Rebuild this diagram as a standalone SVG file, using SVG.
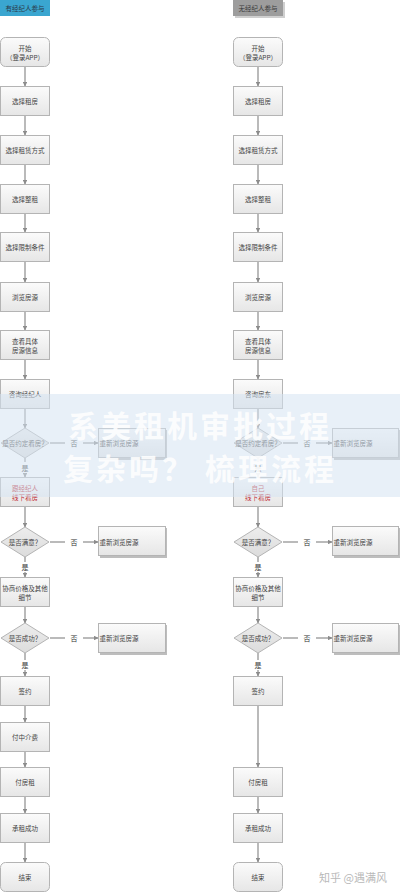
<svg xmlns="http://www.w3.org/2000/svg" width="400" height="892" viewBox="0 0 400 892">
<style>
text{font-family:"Noto Sans CJK SC","Noto Sans",sans-serif;font-size:6.5px;fill:#444;text-anchor:middle;dominant-baseline:central}
.box{fill:url(#g);stroke:#b4b4b4;stroke-width:1}
.dia{fill:url(#gd);stroke:#b4b4b4;stroke-width:1}
.red{fill:#c0282e}
.ln{stroke:#8c8c8c;stroke-width:1.2;fill:none}
.arr{stroke:#8c8c8c;stroke-width:1.2;fill:none;marker-end:url(#ah)}
.lab{font-size:7px;fill:#333}
.sh{fill:#bdbdbd}
</style>
<defs>
<linearGradient id="g" x1="0" y1="0" x2="0" y2="1"><stop offset="0" stop-color="#fbfbfb"/><stop offset="1" stop-color="#e6e6e6"/></linearGradient>
<linearGradient id="gd" x1="0" y1="0" x2="0" y2="1"><stop offset="0" stop-color="#ededed"/><stop offset="1" stop-color="#dcdcdc"/></linearGradient>
<marker id="ah" viewBox="0 0 10 10" refX="9" refY="5" markerWidth="4" markerHeight="4" orient="auto"><path d="M0,0 L10,5 L0,10 z" fill="#8c8c8c"/></marker>
</defs>
<rect width="400" height="892" fill="#ffffff"/>
<g id="connectors">
<line class="arr" x1="25" y1="67" x2="25" y2="86"/>
<line class="arr" x1="25" y1="116" x2="25" y2="135"/>
<line class="arr" x1="25" y1="165" x2="25" y2="184"/>
<line class="arr" x1="25" y1="214" x2="25" y2="232"/>
<line class="arr" x1="25" y1="262" x2="25" y2="282"/>
<line class="arr" x1="25" y1="312" x2="25" y2="330"/>
<line class="arr" x1="25" y1="360" x2="25" y2="379"/>
<line class="arr" x1="25" y1="409" x2="25" y2="428"/>
<line class="ln" x1="50" y1="443" x2="65" y2="443"/>
<line class="arr" x1="83" y1="443" x2="98" y2="443"/>
<line class="ln" x1="25" y1="458" x2="25" y2="462"/>
<line class="arr" x1="25" y1="473" x2="25" y2="477"/>
<line class="arr" x1="25" y1="507" x2="25" y2="527"/>
<line class="ln" x1="50" y1="542" x2="65" y2="542"/>
<line class="arr" x1="83" y1="542" x2="98" y2="542"/>
<line class="ln" x1="25" y1="557" x2="25" y2="562"/>
<line class="arr" x1="25" y1="572" x2="25" y2="577"/>
<line class="arr" x1="25" y1="607" x2="25" y2="623"/>
<line class="ln" x1="50" y1="638" x2="65" y2="638"/>
<line class="arr" x1="83" y1="638" x2="98" y2="638"/>
<line class="ln" x1="25" y1="653" x2="25" y2="660"/>
<line class="arr" x1="25" y1="670" x2="25" y2="676"/>
<line class="arr" x1="25" y1="706" x2="25" y2="722"/>
<line class="arr" x1="25" y1="752" x2="25" y2="767"/>
<line class="arr" x1="25" y1="797" x2="25" y2="813"/>
<line class="arr" x1="25" y1="843" x2="25" y2="862"/>
<line class="arr" x1="258" y1="67" x2="258" y2="86"/>
<line class="arr" x1="258" y1="116" x2="258" y2="135"/>
<line class="arr" x1="258" y1="165" x2="258" y2="184"/>
<line class="arr" x1="258" y1="214" x2="258" y2="232"/>
<line class="arr" x1="258" y1="262" x2="258" y2="282"/>
<line class="arr" x1="258" y1="312" x2="258" y2="330"/>
<line class="arr" x1="258" y1="360" x2="258" y2="379"/>
<line class="arr" x1="258" y1="409" x2="258" y2="428"/>
<line class="ln" x1="283" y1="443" x2="298" y2="443"/>
<line class="arr" x1="316" y1="443" x2="332" y2="443"/>
<line class="ln" x1="258" y1="458" x2="258" y2="462"/>
<line class="arr" x1="258" y1="473" x2="258" y2="477"/>
<line class="arr" x1="258" y1="507" x2="258" y2="527"/>
<line class="ln" x1="283" y1="542" x2="298" y2="542"/>
<line class="arr" x1="316" y1="542" x2="332" y2="542"/>
<line class="ln" x1="258" y1="557" x2="258" y2="562"/>
<line class="arr" x1="258" y1="572" x2="258" y2="577"/>
<line class="arr" x1="258" y1="607" x2="258" y2="623"/>
<line class="ln" x1="283" y1="638" x2="298" y2="638"/>
<line class="arr" x1="316" y1="638" x2="332" y2="638"/>
<line class="ln" x1="258" y1="653" x2="258" y2="660"/>
<line class="arr" x1="258" y1="670" x2="258" y2="676"/>
<line class="arr" x1="258" y1="706" x2="258" y2="767"/>
<line class="arr" x1="258" y1="797" x2="258" y2="813"/>
<line class="arr" x1="258" y1="843" x2="258" y2="862"/>
</g>
<g id="labels">
<text class="lab" x="74" y="443">否</text>
<text class="lab" x="25" y="467.5">是</text>
<text class="lab" x="74" y="542">否</text>
<text class="lab" x="25" y="567">是</text>
<text class="lab" x="74" y="638">否</text>
<text class="lab" x="25" y="665">是</text>
<text class="lab" x="307" y="443">否</text>
<text class="lab" x="258" y="467.5">是</text>
<text class="lab" x="307" y="542">否</text>
<text class="lab" x="258" y="567">是</text>
<text class="lab" x="307" y="638">否</text>
<text class="lab" x="258" y="665">是</text>
</g>
<g id="hdr-left"><rect x="0" y="0" width="50" height="16" fill="#3aa6d0"/><text x="25" y="8" fill="#2a3a4a" style="fill:#2a3a4a">有经纪人参与</text></g>
<g id="hdr-right"><rect x="235" y="2" width="50" height="16" fill="#cfcfcf"/><rect x="233" y="0" width="50" height="16" fill="#9d9d9d"/><text x="258" y="8" style="fill:#3a3a3a">无经纪人参与</text></g>
<g id="l-start"><rect class="box" x="0.5" y="37.5" width="49" height="29" rx="5"/><text x="25" y="47.5">开始</text><text x="25" y="57">（登录APP）</text></g>
<g id="l-n1"><rect class="box" x="0.5" y="86.5" width="49" height="29"/><text x="25" y="101">选择租房</text></g>
<g id="l-n2"><rect class="box" x="0.5" y="135.5" width="49" height="29"/><text x="25" y="150">选择租赁方式</text></g>
<g id="l-n3"><rect class="box" x="0.5" y="184.5" width="49" height="29"/><text x="25" y="199">选择整租</text></g>
<g id="l-n4"><rect class="box" x="0.5" y="232.5" width="49" height="29"/><text x="25" y="247">选择限制条件</text></g>
<g id="l-n5"><rect class="box" x="0.5" y="282.5" width="49" height="29"/><text x="25" y="297">浏览房源</text></g>
<g id="l-n6"><rect class="box" x="0.5" y="330.5" width="49" height="29"/><text x="25" y="341">查看具体</text><text x="25" y="350">房源信息</text></g>
<g id="l-n7"><rect class="box" x="0.5" y="379.5" width="49" height="29"/><text x="25" y="394">咨询经纪人</text></g>
<g id="l-d1"><polygon class="dia" points="1,443 25,428 49,443 25,458"/><text x="25" y="443">是否约定看房？</text></g>
<g id="l-r1"><rect class="sh" x="100" y="430" width="67" height="30"/><rect class="box" x="98.5" y="428.5" width="67" height="29"/><text x="99.5" y="443" style="text-anchor:start">重新浏览房源</text></g>
<g id="l-n8"><rect class="box" x="0.5" y="477.5" width="49" height="29"/><text class="red" x="25" y="487.5">跟经纪人</text><text class="red" x="25" y="496.5">线下看房</text></g>
<g id="l-d2"><polygon class="dia" points="1,542 25,527 49,542 25,557"/><text x="25" y="542">是否满意？</text></g>
<g id="l-r2"><rect class="sh" x="100" y="528" width="67" height="30"/><rect class="box" x="98.5" y="526.5" width="67" height="29"/><text x="99.5" y="542" style="text-anchor:start">重新浏览房源</text></g>
<g id="l-n9"><rect class="box" x="0.5" y="577.5" width="49" height="29"/><text x="25" y="587.5">协商价格及其他</text><text x="25" y="596.5">细节</text></g>
<g id="l-d3"><polygon class="dia" points="1,638 25,623 49,638 25,653"/><text x="25" y="638">是否成功？</text></g>
<g id="l-r3"><rect class="sh" x="100" y="625" width="67" height="30"/><rect class="box" x="98.5" y="623.5" width="67" height="29"/><text x="99.5" y="638" style="text-anchor:start">重新浏览房源</text></g>
<g id="l-n10"><rect class="box" x="0.5" y="676.5" width="49" height="29"/><text x="25" y="691">签约</text></g>
<g id="l-n11"><rect class="box" x="0.5" y="722.5" width="49" height="29"/><text x="25" y="737">付中介费</text></g>
<g id="l-n12"><rect class="box" x="0.5" y="767.5" width="49" height="29"/><text x="25" y="782">付房租</text></g>
<g id="l-n13"><rect class="box" x="0.5" y="813.5" width="49" height="29"/><text x="25" y="828">承租成功</text></g>
<g id="l-end"><rect class="box" x="0.5" y="862.5" width="49" height="29" rx="5"/><text x="25" y="877">结束</text></g>
<g id="r-start"><rect class="box" x="233.5" y="37.5" width="49" height="29" rx="5"/><text x="258" y="47.5">开始</text><text x="258" y="57">（登录APP）</text></g>
<g id="r-n1"><rect class="box" x="233.5" y="86.5" width="49" height="29"/><text x="258" y="101">选择租房</text></g>
<g id="r-n2"><rect class="box" x="233.5" y="135.5" width="49" height="29"/><text x="258" y="150">选择租赁方式</text></g>
<g id="r-n3"><rect class="box" x="233.5" y="184.5" width="49" height="29"/><text x="258" y="199">选择整租</text></g>
<g id="r-n4"><rect class="box" x="233.5" y="232.5" width="49" height="29"/><text x="258" y="247">选择限制条件</text></g>
<g id="r-n5"><rect class="box" x="233.5" y="282.5" width="49" height="29"/><text x="258" y="297">浏览房源</text></g>
<g id="r-n6"><rect class="box" x="233.5" y="330.5" width="49" height="29"/><text x="258" y="341">查看具体</text><text x="258" y="350">房源信息</text></g>
<g id="r-n7"><rect class="box" x="233.5" y="379.5" width="49" height="29"/><text x="258" y="394">咨询房东</text></g>
<g id="r-d1"><polygon class="dia" points="234,443 258,428 282,443 258,458"/><text x="258" y="443">是否约定看房？</text></g>
<g id="r-r1"><rect class="sh" x="334" y="430" width="66" height="30"/><rect class="box" x="332.5" y="428.5" width="66" height="29"/><text x="333.5" y="443" style="text-anchor:start">重新浏览房源</text></g>
<g id="r-n8"><rect class="box" x="233.5" y="477.5" width="49" height="29"/><text class="red" x="258" y="487.5">自己</text><text class="red" x="258" y="496.5">线下看房</text></g>
<g id="r-d2"><polygon class="dia" points="234,542 258,527 282,542 258,557"/><text x="258" y="542">是否满意？</text></g>
<g id="r-r2"><rect class="sh" x="334" y="528" width="66" height="30"/><rect class="box" x="332.5" y="526.5" width="66" height="29"/><text x="333.5" y="542" style="text-anchor:start">重新浏览房源</text></g>
<g id="r-n9"><rect class="box" x="233.5" y="577.5" width="49" height="29"/><text x="258" y="587.5">协商价格及其他</text><text x="258" y="596.5">细节</text></g>
<g id="r-d3"><polygon class="dia" points="234,638 258,623 282,638 258,653"/><text x="258" y="638">是否成功？</text></g>
<g id="r-r3"><rect class="sh" x="334" y="625" width="66" height="30"/><rect class="box" x="332.5" y="623.5" width="66" height="29"/><text x="333.5" y="638" style="text-anchor:start">重新浏览房源</text></g>
<g id="r-n10"><rect class="box" x="233.5" y="676.5" width="49" height="29"/><text x="258" y="691">签约</text></g>
<g id="r-n12"><rect class="box" x="233.5" y="767.5" width="49" height="29"/><text x="258" y="782">付房租</text></g>
<g id="r-n13"><rect class="box" x="233.5" y="813.5" width="49" height="29"/><text x="258" y="828">承租成功</text></g>
<g id="r-end"><rect class="box" x="233.5" y="862.5" width="49" height="29" rx="5"/><text x="258" y="877">结束</text></g>
<g id="overlay">
<rect x="0" y="394" width="400" height="103" fill="#d6e4f2" opacity="0.55"/>
<text x="200" y="424" style="font-size:30px;font-weight:bold;fill:#ffffff;opacity:0.85;letter-spacing:3px">系美租机审批过程</text>
<text x="200" y="467" style="font-size:30px;font-weight:bold;fill:#ffffff;opacity:0.85;letter-spacing:3px">复杂吗？ 梳理流程</text>
</g>
<text x="353" y="877" style="font-size:11px;fill:#b8b8b8">知乎 @遇满风</text>
</svg>
